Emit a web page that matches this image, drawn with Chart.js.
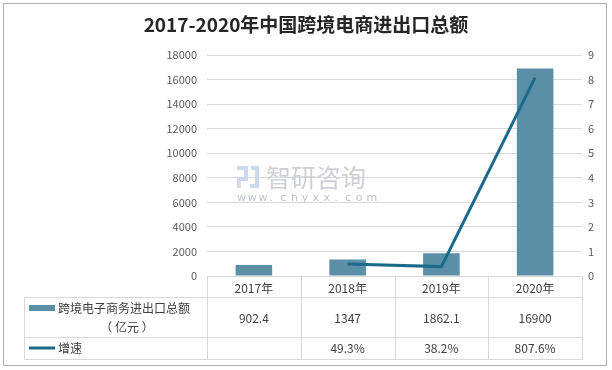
<!DOCTYPE html>
<html>
<head>
<meta charset="utf-8">
<script src="https://cdn.jsdelivr.net/npm/chart.js@4"></script>
<style>
  html, body { margin: 0; padding: 0; background: #fff; }
  #wrap { width: 612px; height: 370px; }
</style>
</head>
<body>
<div id="wrap"><canvas id="chart" width="612" height="370"></canvas></div>
<script>
// data
const years = ["2017年", "2018年", "2019年", "2020年"];
const totalValues = [902.4, 1347, 1862.1, 16900];
const growthRates = [null, 49.3, 38.2, 807.6]; // percent
const barLabel = "跨境电子商务进出口总额";
const barUnit = "（ 亿元 ）";
const lineLabel = "增速";
const titleText = "2017-2020年中国跨境电商进出口总额";

const BAR_COLOR = "#5b8fa6";
const LINE_COLOR = "#1b6a8c";
const GRID = "#d9d9d9";
const FONT = "'Noto Sans CJK SC', 'Liberation Sans', sans-serif";

const frame = {
  id: "frame",
  beforeDraw(chart) {
    const c = chart.ctx;
    c.save();
    c.fillStyle = "#fff";
    c.fillRect(0, 0, chart.width, chart.height);
    c.strokeStyle = "#b0b0b0";
    c.lineWidth = 1;
    c.strokeRect(3.5, 3.5, 603, 362);
    c.fillStyle = "#262626";
    c.font = "bold 19px " + FONT;
    c.textAlign = "center";
    c.textBaseline = "middle";
    c.fillText(titleText, 306, 25);
    c.restore();
  },
  beforeDatasetsDraw(chart) {
    // watermark
    const c = chart.ctx;
    c.save();
    c.fillStyle = "#ccd9ec";
    c.fillRect(237, 166, 11, 4);
    c.fillRect(244, 166, 4, 11);
    c.fillRect(237, 177, 11, 4);
    c.fillRect(251, 166, 8, 4);
    c.fillRect(255, 166, 4, 22);
    c.fillRect(250, 184, 9, 4);
    c.fillStyle = "#d8dbe2";
    c.fillRect(237, 181, 4, 7);
    c.fillStyle = "#cdd0d6";
    c.font = "25px " + FONT;
    c.textAlign = "left";
    c.textBaseline = "middle";
    c.fillText("智研咨询", 266, 177);
    c.fillStyle = "#c0c5cd";
    c.font = "11px 'DejaVu Sans', sans-serif";
    const s = "www.chyxx.com";
    let x = 237;
    for (const ch of s) {
      c.fillText(ch, x, 198);
      x += 10.8;
    }
    c.restore();
  },
  afterDraw(chart) {
    // data table under the plot
    const c = chart.ctx;
    const xs = chart.scales.x;
    const area = chart.chartArea;
    const left = 24.5, r0 = area.bottom + 0.5, r1 = 297.5, r2 = 337.5, r3 = 359.5;
    c.save();
    c.strokeStyle = GRID;
    c.lineWidth = 1;
    c.beginPath();
    c.moveTo(area.left, r0); c.lineTo(area.right, r0);
    [r1, r2, r3].forEach(y => { c.moveTo(left, y); c.lineTo(area.right, y); });
    c.moveTo(left, r1); c.lineTo(left, r3);
    const step = xs.getPixelForValue(1) - xs.getPixelForValue(0);
    const edges = [area.left];
    years.forEach((_, i) => edges.push(xs.getPixelForValue(i) + step / 2));
    edges.forEach(x => { const px = Math.round(x) + 0.5; c.moveTo(px, r0); c.lineTo(px, r3); });
    c.stroke();

    c.fillStyle = "#404040";
    c.font = "12px " + FONT;
    c.textAlign = "center";
    c.textBaseline = "middle";
    years.forEach((y, i) => {
      const x = xs.getPixelForValue(i);
      c.fillText(y, x, 288);
      c.fillText(String(totalValues[i]), x, 318);
      if (growthRates[i] != null) c.fillText(growthRates[i].toFixed(1) + "%", x, 348);
    });

    // legend keys
    c.fillStyle = BAR_COLOR;
    c.fillRect(29, 305, 26, 6);
    c.strokeStyle = LINE_COLOR;
    c.lineWidth = 3;
    c.beginPath();
    c.moveTo(29, 348); c.lineTo(55, 348);
    c.stroke();
    c.fillStyle = "#404040";
    c.textAlign = "left";
    c.fillText(barLabel, 58, 308);
    c.textAlign = "center";
    c.fillText(barUnit, 127, 327);
    c.textAlign = "left";
    c.fillText(lineLabel, 58, 348);
    c.restore();
  }
};

new Chart(document.getElementById("chart"), {
  data: {
    labels: years,
    datasets: [
      {
        type: "line",
        label: lineLabel,
        data: growthRates.map(v => v == null ? null : v / 100),
        yAxisID: "y1",
        borderColor: LINE_COLOR,
        borderWidth: 3,
        pointRadius: 0,
        tension: 0,
        order: 0
      },
      {
        type: "bar",
        label: barLabel,
        data: totalValues,
        yAxisID: "y",
        backgroundColor: BAR_COLOR,
        categoryPercentage: 1,
        barPercentage: 0.39,
        order: 1
      }
    ]
  },
  options: {
    responsive: false,
    animation: false,
    layout: { padding: { top: 55, bottom: 94 } },
    plugins: { legend: { display: false }, title: { display: false }, tooltip: { enabled: false } },
    scales: {
      x: { display: false, offset: true },
      y: {
        position: "left",
        min: 0, max: 18000,
        afterFit(s) { s.width = 207; },
        ticks: { stepSize: 2000, color: "#595959", padding: 10, font: { size: 11, family: FONT }, callback: v => String(v) },
        grid: { color: GRID, drawTicks: false },
        border: { display: false }
      },
      y1: {
        position: "right",
        min: 0, max: 9,
        afterFit(s) { s.width = 30; },
        ticks: { stepSize: 1, color: "#595959", padding: 6, font: { size: 11, family: FONT } },
        grid: { display: false, drawTicks: false },
        border: { display: false }
      }
    }
  },
  plugins: [frame]
});
</script>
</body>
</html>
